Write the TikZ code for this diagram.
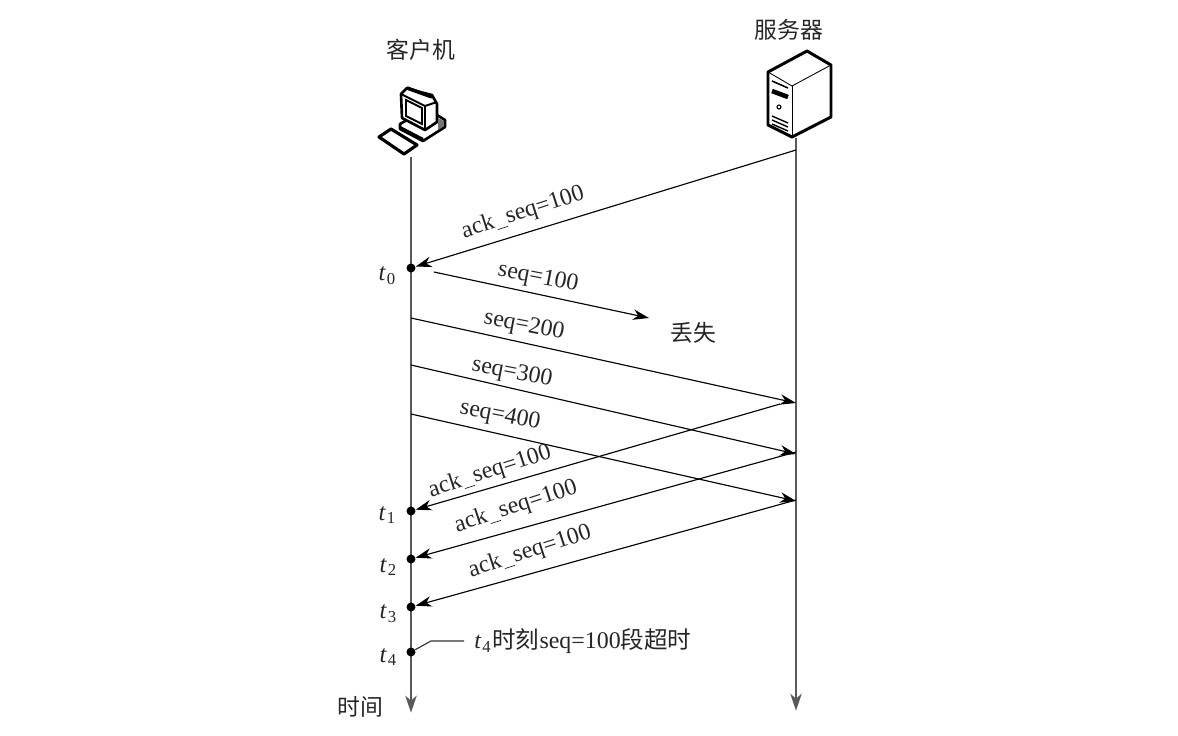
\documentclass[tikz,border=0pt]{standalone}
\usepackage{fontspec}
\setmainfont{Liberation Serif}
\newfontfamily\cjk{Noto Sans CJK SC}
\usetikzlibrary{arrows.meta, positioning}
\tikzset{
  lifeline/.style={-{Stealth[length=3.4mm, width=2.3mm, inset=1mm]}, draw=black!65, line width=0.9pt},
  msg/.style={-{Stealth[length=3.2mm, width=2.1mm, inset=1mm]}, draw=black, line width=0.65pt},
  leader/.style={draw=black!80, line width=0.65pt},
  evdot/.style={circle, fill=black, inner sep=0pt, minimum size=1.8mm},
  anchorpt/.style={inner sep=0pt, minimum size=0pt},
  msglabel/.style={font=\fontsize{13.6}{15}\selectfont, inner sep=0pt, text=black!85},
  tlabel/.style={font=\fontsize{14}{15}\selectfont, inner sep=0pt, text=black!85},
  cjklabel/.style={font=\fontsize{13}{15}\selectfont\cjk, inner sep=0pt, text=black!85},
  outline/.style={draw=black, line width=1.5pt, line join=round}
}
\newcommand{\tsub}[1]{\textit{t}\kern0.5pt\raisebox{-2.2pt}{\fontsize{9.5}{10}\selectfont #1}}
\newcommand{\ackseq}{ack\kern1pt\rule[-1.5pt]{6pt}{0.4pt}\kern0.5pt seq=100}
\begin{document}
\begin{tikzpicture}[x=0.02cm, y=-0.02cm]
  \useasboundingbox (0,0) rectangle (1178,735);
  % titles
  \node[cjklabel] (client) at (421,50) {客户机};
  \node[cjklabel] (server) at (789,30) {服务器};
  \node[cjklabel] (lost) at (693,333) {丢失};
  \node[cjklabel] (timeaxis) at (360,707) {时间};

  % lifeline ends
  \node[anchorpt] (ctop) at (411,157) {};
  \node[anchorpt] (cend) at (411,713) {};
  \node[anchorpt] (stop) at (796,138) {};
  \node[anchorpt] (send) at (796,711) {};
  \draw[lifeline] (ctop) -- (cend);
  \draw[lifeline] (stop) -- (send);

  % events
  \node[evdot] (t0) at (411,268) {};
  \node[evdot] (t1) at (411,511) {};
  \node[evdot] (t2) at (411,559) {};
  \node[evdot] (t3) at (411,607) {};
  \node[evdot] (t4) at (411,652) {};
  \node[tlabel] at (387,276) {\tsub{0}};
  \node[tlabel] at (387,515) {\tsub{1}};
  \node[tlabel] at (388,567) {\tsub{2}};
  \node[tlabel] at (388,614) {\tsub{3}};
  \node[tlabel] at (388,657) {\tsub{4}};

  % anchor points on the lifelines
  \coordinate (sa) at (796,150);
  \coordinate (lossfrom) at (434,272);
  \coordinate (lossto) at (649,318);
  \coordinate (c2) at (411,318);
  \coordinate (c3) at (411,365);
  \coordinate (c4) at (411,414);
  \coordinate (s2) at (796,403);
  \coordinate (s3) at (796,454);
  \coordinate (s4) at (796,501);
  \coordinate (r2) at (780,404);
  \coordinate (r3) at (796,452);
  \coordinate (r4) at (796,500);

  \draw[msg] (sa) -- (t0);
  \draw[msg] (lossfrom) -- (lossto);
  \draw[msg] (c2) -- (s2);
  \draw[msg] (c3) -- (s3);
  \draw[msg] (c4) -- (s4);
  \draw[msg] (r2) -- (t1);
  \draw[msg] (r3) -- (t2);
  \draw[msg] (r4) -- (t3);

  \node[msglabel, rotate=18] at (523,213) {\ackseq};
  \node[msglabel, rotate=-11] at (538,278) {seq=100};
  \node[msglabel, rotate=-11] at (524,326) {seq=200};
  \node[msglabel, rotate=-11] at (512,373) {seq=300};
  \node[msglabel, rotate=-11] at (500,416) {seq=400};
  \node[msglabel, rotate=18] at (490,472) {\ackseq};
  \node[msglabel, rotate=18] at (516,507) {\ackseq};
  \node[msglabel, rotate=18] at (530,552) {\ackseq};

  % timeout note
  \node[msglabel, anchor=west] (note) at (474,641) {\tsub{4}\hspace{1pt}{\cjk\fontsize{13.4}{15}\selectfont 时刻}seq=100{\cjk\fontsize{13.4}{15}\selectfont 段超时}};
  \coordinate (bend) at (431,641);
  \coordinate (noteend) at (464,641);
  \draw[leader] (t4) -- (bend) -- (noteend);

  % server icon
  \draw[outline, line width=1.7pt, fill=white] (807,51) -- (768,72) -- (768,125) -- (792,137) -- (831,117) -- (831,65) -- cycle;
  \draw[line width=0.5pt] (768,72) -- (792,86) -- (831,65);
  \draw[line width=0.5pt] (792,86) -- (792,137);
  \draw[line width=0.9pt] (772,81) -- (788,88);
  \draw[line width=2.6pt] (772,91) -- (788,97);
  \draw[line width=0.6pt] (779,107) circle (2);
  \draw[line width=0.8pt] (772,116) -- (788,123);
  \draw[line width=0.8pt] (772,120) -- (788,127);
  \draw[line width=0.8pt] (772,124) -- (788,131);

  % client icon
  \draw[outline, fill=white] (400,124) -- (414,116) -- (437,115) -- (445,120) -- (445,127) -- (423,141) -- (400,129) -- cycle;
  \draw[outline, fill=white] (401,94) -- (407,88) -- (420,92) -- (432,95) -- (437,104) -- (437,122) -- (425,130) -- (402,118) -- cycle;
  \draw[line width=1.1pt] (401,94) -- (425,106) -- (425,130);
  \draw[line width=1.1pt] (425,106) -- (437,102);
  \draw[line width=2pt] (407,88) -- (432,97);
  \draw[line width=1.1pt] (406,100) -- (422,108) -- (422,124) -- (406,116) -- cycle;
  \draw[line width=1.3pt] (400,127) -- (423,139);
  \draw[line width=1.2pt] (410,133) -- (422,139) -- (422,141);
  \fill[black!55] (438,118) -- (444,121) -- (444,126) -- (438,130) -- cycle;
  \draw[outline, line width=1.8pt, fill=white] (379,137) -- (391,129) -- (417,145) -- (404,154) -- cycle;
\end{tikzpicture}
\end{document}
